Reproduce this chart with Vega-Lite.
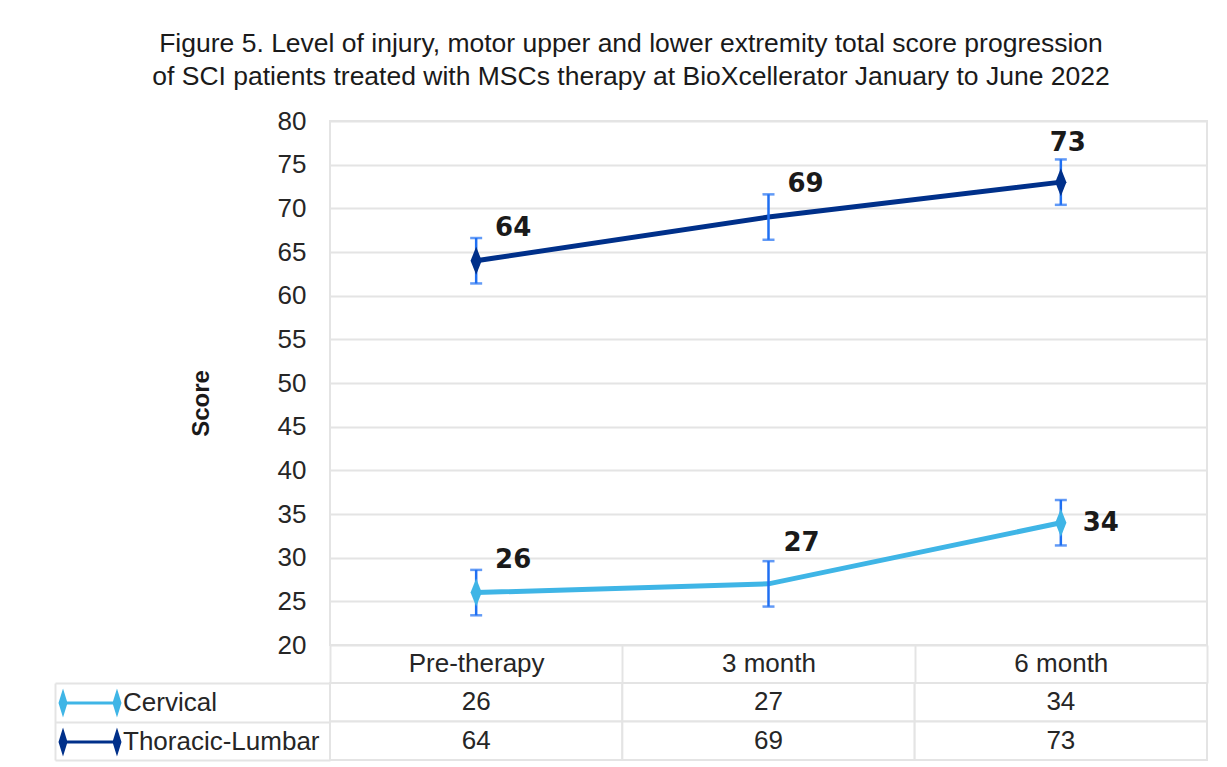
{
  "$schema": "https://vega.github.io/schema/vega-lite/v6.json",
  "padding": {"left": 53, "top": 30, "right": 18, "bottom": 6},
  "background": "white",
  "title": {
    "text": ["Figure 5. Level of injury, motor upper and lower extremity total score progression", "of SCI patients treated with MSCs therapy at BioXcellerator January to June 2022"],
    "font": "Liberation Sans",
    "fontSize": 26.5,
    "fontWeight": "normal",
    "color": "#1a1a1a",
    "lineHeight": 33,
    "anchor": "middle",
    "offset": 17
  },
  "data": {
    "values": [
      {"period": "Pre-therapy", "series": "Cervical", "value": 26, "err": 2.6},
      {"period": "3 month", "series": "Cervical", "value": 27, "err": 2.6},
      {"period": "6 month", "series": "Cervical", "value": 34, "err": 2.6},
      {"period": "Pre-therapy", "series": "Thoracic-Lumbar", "value": 64, "err": 2.6},
      {"period": "3 month", "series": "Thoracic-Lumbar", "value": 69, "err": 2.6},
      {"period": "6 month", "series": "Thoracic-Lumbar", "value": 73, "err": 2.6}
    ]
  },
  "bounds": "flush",
  "spacing": 38,
  "resolve": {"scale": {"x": "independent", "y": "independent", "color": "independent"}, "legend": {"color": "independent"}},
  "vconcat": [
    {
      "width": 877,
      "height": 524,
      "encoding": {
        "x": {
          "field": "period", "type": "nominal",
          "scale": {"domain": ["Pre-therapy", "3 month", "6 month"]},
          "axis": {
            "title": null, "labelAngle": 0, "domain": false,
            "ticks": true, "tickBand": "extent", "tickSize": 38, "tickColor": "#e4e4e4", "tickWidth": 2,
            "labelPadding": -20, "labelBaseline": "middle",
            "labelFont": "Liberation Sans", "labelFontSize": 26, "labelColor": "#262626"
          }
        },
        "y": {
          "field": "value", "type": "quantitative",
          "scale": {"domain": [20, 80], "nice": false, "zero": false},
          "axis": {
            "title": "Score", "titleFont": "Liberation Sans", "titleFontSize": 24, "titleFontWeight": "bold", "titleColor": "#1a1a1a",
            "titlePadding": 64, "titleY": 282,
            "values": [20, 25, 30, 35, 40, 45, 50, 55, 60, 65, 70, 75, 80],
            "domain": false, "ticks": false, "grid": true, "gridColor": "#e4e4e4", "gridWidth": 2,
            "labelPadding": 24, "labelFont": "Liberation Sans", "labelFontSize": 26, "labelColor": "#262626"
          }
        }
      },
      "layer": [
        {
          "mark": {"type": "line", "strokeWidth": 5},
          "encoding": {
            "color": {"field": "series", "type": "nominal", "scale": {"domain": ["Cervical", "Thoracic-Lumbar"], "range": ["#3fb5e6", "#00308a"]}, "legend": null}
          }
        },
        {
          "mark": {"type": "errorbar", "color": "#1f6ff2", "thickness": 2.5, "size": 12, "ticks": true},
          "encoding": {
            "y": {"field": "value", "type": "quantitative"},
            "yError": {"field": "err"}
          }
        },
        {
          "transform": [{"filter": "datum.period != '3 month'"}],
          "mark": {"type": "point", "shape": "M0,-1L0.4,0L0,1L-0.4,0Z", "size": 784, "filled": true, "opacity": 1},
          "encoding": {
            "color": {"field": "series", "type": "nominal", "scale": {"domain": ["Cervical", "Thoracic-Lumbar"], "range": ["#3fb5e6", "#00308a"]}, "legend": null}
          }
        },
        {
          "transform": [{"filter": "(datum.series == 'Thoracic-Lumbar' && datum.period != '6 month') || (datum.series == 'Cervical' && datum.period == 'Pre-therapy')"}],
          "mark": {"type": "text", "font": "DejaVu Sans", "fontWeight": "bold", "fontSize": 26, "color": "#1a1a1a", "dx": 37, "dy": -33},
          "encoding": {"text": {"field": "value", "type": "quantitative"}}
        },
        {
          "transform": [{"filter": "datum.series == 'Cervical' && datum.period == '3 month'"}],
          "mark": {"type": "text", "font": "DejaVu Sans", "fontWeight": "bold", "fontSize": 26, "color": "#1a1a1a", "dx": 33, "dy": -41},
          "encoding": {"text": {"field": "value", "type": "quantitative"}}
        },
        {
          "transform": [{"filter": "datum.series == 'Thoracic-Lumbar' && datum.period == '6 month'"}],
          "mark": {"type": "text", "font": "DejaVu Sans", "fontWeight": "bold", "fontSize": 26, "color": "#1a1a1a", "dx": 7, "dy": -39},
          "encoding": {"text": {"field": "value", "type": "quantitative"}}
        },
        {
          "transform": [{"filter": "datum.series == 'Cervical' && datum.period == '6 month'"}],
          "mark": {"type": "text", "font": "DejaVu Sans", "fontWeight": "bold", "fontSize": 26, "color": "#1a1a1a", "dx": 40, "dy": 0},
          "encoding": {"text": {"field": "value", "type": "quantitative"}}
        }
      ]
    },
    {
      "width": 877,
      "height": 77,
      "encoding": {
        "x": {"field": "period", "type": "nominal", "scale": {"domain": ["Pre-therapy", "3 month", "6 month"]}, "axis": null},
        "y": {
          "field": "series", "type": "nominal",
          "scale": {"domain": ["Cervical", "Thoracic-Lumbar"]},
          "axis": {
            "title": null, "labels": false, "domain": true, "domainColor": "#e4e4e4", "domainWidth": 2,
            "offset": 275, "ticks": true, "tickBand": "extent", "tickSize": -275, "tickColor": "#e4e4e4", "tickWidth": 2, "grid": false
          }
        }
      },
      "layer": [
        {
          "mark": {"type": "rect", "fill": "white", "stroke": "#e4e4e4", "strokeWidth": 2}
        },
        {
          "mark": {"type": "text", "font": "Liberation Sans", "fontSize": 26, "color": "#262626"},
          "encoding": {"text": {"field": "value", "type": "quantitative"}}
        },
        {
          "mark": {"type": "point", "filled": true, "opacity": 0},
          "encoding": {
            "color": {
              "field": "series", "type": "nominal",
              "scale": {"domain": ["Cervical", "Thoracic-Lumbar"], "range": ["#3fb5e6", "#00308a"]},
              "legend": {
                "orient": "none", "legendX": -256, "legendY": 4, "title": null, "padding": 0,
                "symbolType": "M-2,0L-1.714,-0.92L-1.428,0L-1.714,0.92ZM1.428,0L1.714,-0.92L2,0L1.714,0.92ZM-1.6,-0.095L1.6,-0.095L1.6,0.095L-1.6,0.095Z",
                "symbolSize": 992, "symbolOpacity": 1, "symbolStrokeWidth": 0,
                "labelFont": "Liberation Sans", "labelFontSize": 26, "labelColor": "#262626", "labelOffset": 17, "labelLimit": 400,
                "rowPadding": 8,
                "encode": {"symbols": {"update": {"fill": {"scale": "color", "field": "value"}, "opacity": {"value": 1}}}}
              }
            }
          }
        }
      ]
    }
  ],
  "config": {
    "font": "Liberation Sans",
    "view": {"stroke": "#e4e4e4", "strokeWidth": 2}
  }
}
